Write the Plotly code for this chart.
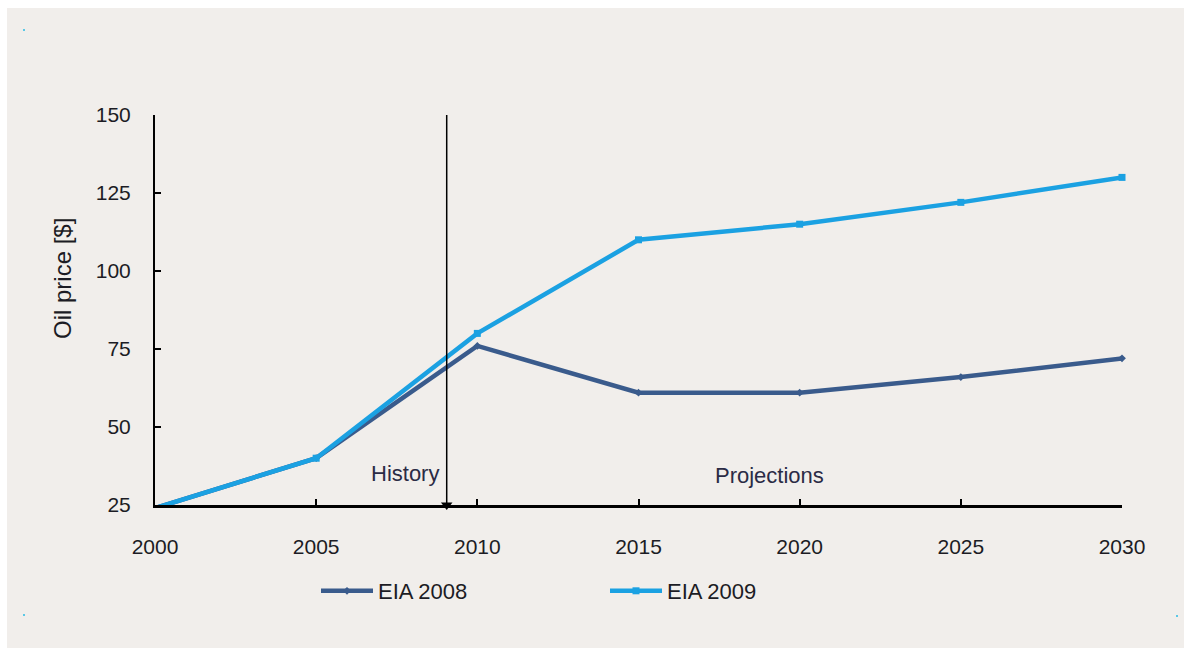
import plotly.graph_objects as go

years = [2000, 2005, 2010, 2015, 2020, 2025, 2030]
eia_2008 = [24, 40, 76, 61, 61, 66, 72]
eia_2009 = [24, 40, 80, 110, 115, 122, 130]
y_ticks = [25, 50, 75, 100, 125, 150]
x_ticks = [2000, 2005, 2010, 2015, 2020, 2025, 2030]
divider_year = 2009.05
history_label = ("History", 2007.75, 35.2)
projection_label = ("Projections", 2019.05, 34.3)

FONT = "Liberation Sans, Arial, sans-serif"
TXT = "#1c1c24"
BG = "#f1eeeb"

fig = go.Figure()
fig.add_trace(go.Scatter(
    x=years, y=eia_2008, name="EIA 2008", mode="lines+markers",
    line=dict(color="#3a5b8c", width=4.5),
    marker=dict(symbol="diamond", size=6, color="#3a5b8c"),
    cliponaxis=False,
))
fig.add_trace(go.Scatter(
    x=years, y=eia_2009, name="EIA 2009", mode="lines+markers",
    line=dict(color="#1ba1e2", width=4.5),
    marker=dict(symbol="square", size=7, color="#1ba1e2"),
    cliponaxis=False,
))
# divider arrow head
fig.add_trace(go.Scatter(
    x=[divider_year], y=[y_ticks[0]], mode="markers", showlegend=False,
    marker=dict(symbol="triangle-down", size=10, color="black"),
    cliponaxis=False, hoverinfo="skip",
))

W, H = 1184, 648
L, R, T, B = 155, 62, 115, 143
pw, ph = W - L - R, H - T - B

def px(xp):
    return (xp - L) / pw

def py(yp):
    return (H - B - yp) / ph

shapes = [
    dict(type="rect", xref="paper", yref="paper", x0=px(7), x1=px(W + 5),
         y0=py(8), y1=py(H + 5), fillcolor=BG, line=dict(width=0), layer="below"),
    dict(type="line", xref="x", yref="y", x0=divider_year, x1=divider_year,
         y0=y_ticks[0], y1=y_ticks[-1], line=dict(color="black", width=1.5), layer="above"),
]
for (xx, yy) in [(24, 30), (24, 615), (1177, 616)]:
    shapes.append(dict(type="rect", xref="paper", yref="paper",
                       x0=px(xx - 1), x1=px(xx + 1), y0=py(yy + 1), y1=py(yy - 1),
                       fillcolor="#5bc8e6", line=dict(width=0), layer="below"))

annotations = [
    dict(text=history_label[0], x=history_label[1], y=history_label[2], xref="x", yref="y",
         showarrow=False, font=dict(family=FONT, size=22, color="#2b2b45")),
    dict(text=projection_label[0], x=projection_label[1], y=projection_label[2], xref="x", yref="y",
         showarrow=False, font=dict(family=FONT, size=22, color="#2b2b45")),
    dict(text="Oil price [$]", textangle=-90, xref="paper", yref="paper",
         x=px(62), y=py(279), xanchor="center", yanchor="middle", showarrow=False,
         font=dict(family=FONT, size=24, color=TXT)),
]

fig.update_layout(
    width=W, height=H,
    margin=dict(l=L, r=R, t=T, b=B, pad=0),
    paper_bgcolor="white", plot_bgcolor="white",
    font=dict(family=FONT, size=21, color=TXT),
    shapes=shapes, annotations=annotations,
    showlegend=True,
    legend=dict(orientation="h", x=px(316), y=py(591), xanchor="left", yanchor="middle",
                bgcolor="rgba(0,0,0,0)", font=dict(family=FONT, size=22, color=TXT),
                entrywidth=222, entrywidthmode="pixels", itemwidth=52),
    xaxis=dict(range=[2000, 2030], tickvals=x_ticks, ticktext=[str(v) for v in x_ticks],
               showgrid=False, zeroline=False, showline=True, linecolor="black", linewidth=2.5,
               ticks="inside", ticklen=6, tickwidth=2, tickcolor="black",
               ticklabelstandoff=21, layer="above traces", fixedrange=True),
    yaxis=dict(range=[25, 150], tickvals=y_ticks, ticktext=[str(v) for v in y_ticks],
               showgrid=False, zeroline=False, showline=True, linecolor="black", linewidth=2,
               ticks="inside", ticklen=6, tickwidth=2, tickcolor="black",
               ticklabelstandoff=18, layer="above traces", fixedrange=True),
)

fig.write_html("out.html")
